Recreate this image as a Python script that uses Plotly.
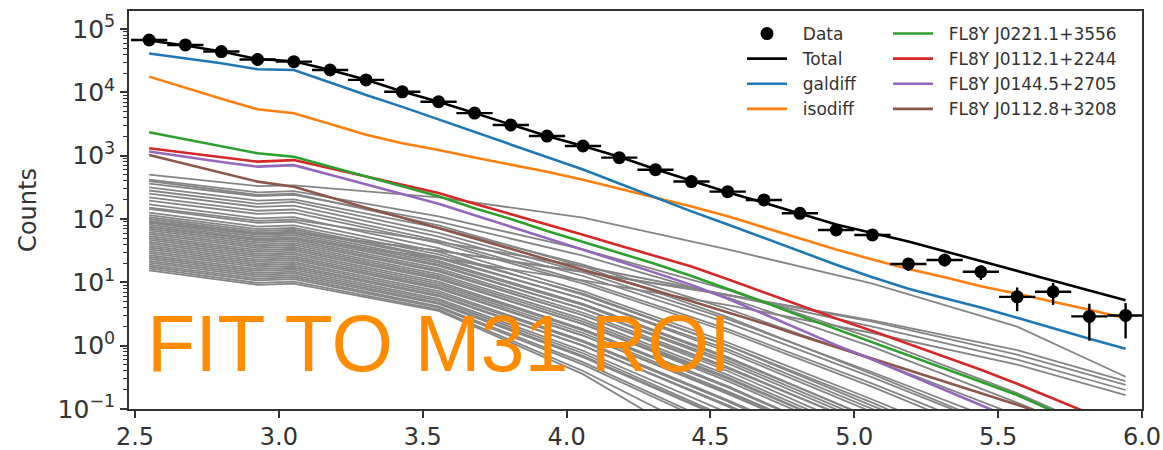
import plotly.graph_objects as go

# ---------------- data ----------------
energy = [2.549, 2.675, 2.800, 2.926, 3.052, 3.178, 3.303, 3.429, 3.555, 3.680,
          3.806, 3.932, 4.057, 4.183, 4.309, 4.434, 4.560, 4.686, 4.811, 4.937,
          5.063, 5.188, 5.314, 5.440, 5.566, 5.691, 5.817, 5.943]
bin_halfwidth = 0.063

data_counts = [67000, 56000, 44000, 33000, 30500, 22500, 15700, 10200, 7100, 4700,
               3050, 2040, 1420, 930, 600, 390, 270, 200, 123, 67,
               56, 19.5, 22.5, 14.7, 5.9, 7.1, 2.9, 3.0]
data_err = [259, 237, 210, 182, 175, 150, 125, 101, 84, 69,
            55, 45, 38, 30.5, 24.5, 19.7, 16.4, 14.1, 11.1, 8.2,
            7.5, 4.4, 4.7, 3.8, 2.4, 2.7, 1.7, 1.7]

total = [66000, 55000, 44000, 33500, 31000, 22500, 15800, 10300, 7100, 4700,
         3100, 2050, 1420, 960, 610, 400, 265, 180, 122, 82,
         60, 44, 31, 21.5, 15, 10.5, 7.4, 5.2]

galdiff = [41000, 34400, 28700, 23100, 22500, 14300, 9060, 5890, 3720, 2340,
           1510, 955, 603, 363, 219, 132, 82, 50, 31, 19,
           12, 7.9, 5.6, 4.0, 2.75, 1.86, 1.29, 0.89]

isodiff = [17700, 11700, 7940, 5400, 4670, 3160, 2140, 1570, 1230, 933,
           724, 556, 417, 302, 214, 158, 110, 74, 50, 33,
           23, 16.2, 12.0, 8.7, 6.6, 5.0, 3.7, 2.7]

src_j0221 = [2340, 1820, 1410, 1090, 964, 676, 468, 331, 229, 148,
             100, 64.6, 43.7, 28.8, 19.5, 12.6, 7.94, 4.90, 2.95, 1.82,
             1.12, 0.708, 0.437, 0.269, 0.166, 0.093, 0.056, 0.032]
src_j0112a = [1310, 1120, 955, 804, 851, 631, 468, 355, 257, 174,
              120, 81.3, 56.2, 38.0, 26.3, 17.8, 11.2, 6.92, 4.27, 2.69,
              1.70, 1.07, 0.676, 0.417, 0.251, 0.148, 0.085, 0.048]
src_j0144 = [1160, 955, 794, 670, 708, 501, 355, 251, 174, 115,
             75.9, 49.0, 32.4, 21.4, 14.1, 9.12, 5.50, 3.16, 1.78, 1.02,
             0.603, 0.347, 0.204, 0.115, 0.066, 0.038, 0.022, 0.0126]
src_j0112b = [1020, 741, 537, 389, 324, 219, 151, 105, 72.4, 49.0,
              33.9, 22.9, 15.8, 10.7, 7.41, 5.01, 3.39, 2.24, 1.45, 0.955,
              0.631, 0.417, 0.275, 0.178, 0.117, 0.076, 0.050, 0.032]

source_names = ["FL8Y J0221.1+3556", "FL8Y J0112.1+2244",
                "FL8Y J0144.5+2705", "FL8Y J0112.8+3208"]

# other (grey) sources: log10(counts) read at these energies
others_E = [2.549, 2.926, 3.052, 3.555, 4.057, 4.560, 5.063, 5.566, 5.943]
others_log10 = [
    [2.70, 2.52, 2.53, 2.34, 2.02, 1.52, 0.98, 0.30, -0.49],
    [1.95, 1.76, 1.78, 1.50, 1.16, 0.80, 0.40, -0.07, -0.56],
    [1.96, 1.77, 1.79, 1.50, 1.17, 0.80, 0.38, -0.14, -0.62],
    [2.18, 1.97, 1.99, 1.64, 1.25, 0.80, 0.30, -0.22, -0.70],
    [1.88, 1.67, 1.69, 1.38, 1.03, 0.64, 0.20, -0.30, -0.78],
    [2.62, 2.42, 2.44, 2.04, 1.52, 0.88, 0.12, -0.75, -1.5],
    [2.56, 2.36, 2.38, 1.96, 1.42, 0.76, -0.02, -0.9, -1.6],
    [2.60, 2.38, 2.40, 1.90, 1.25, 0.45, -0.45, -1.4, -2.1],
    [2.50, 2.29, 2.31, 1.86, 1.28, 0.58, -0.22, -1.1, -1.8],
    [2.45, 2.24, 2.27, 1.78, 1.16, 0.42, -0.42, -1.3, -2.0],
    [2.40, 2.19, 2.21, 1.72, 1.10, 0.36, -0.5, -1.4, -2.1],
    [2.34, 2.13, 2.15, 1.66, 1.02, 0.26, -0.6, -1.5, -2.2],
    [2.29, 2.08, 2.10, 1.62, 0.98, 0.22, -0.65, -1.6, -2.3],
    [2.23, 2.01, 2.03, 1.54, 0.86, 0.05, -0.85, -1.8, -2.5],
    [2.16, 1.94, 1.96, 1.48, 0.80, 0.00, -0.9, -1.9, -2.6],
    [2.10, 1.88, 1.90, 1.44, 0.82, 0.00, -0.95, -1.9, -2.6],
    [2.06, 1.84, 1.86, 1.40, 0.74, -0.10, -1.05, -2.0, -2.7],
    [2.03, 1.81, 1.83, 1.38, 0.74, -0.06, -1.0, -2.0, -2.7],
    [2.00, 1.78, 1.80, 1.34, 0.66, -0.18, -1.15, -2.1, -2.8],
    [1.97, 1.75, 1.77, 1.31, 0.64, -0.20, -1.15, -2.1, -2.8],
    [1.94, 1.72, 1.74, 1.28, 0.58, -0.28, -1.25, -2.2, -2.9],
    [1.91, 1.69, 1.71, 1.26, 0.58, -0.24, -1.2, -2.2, -2.9],
    [1.88, 1.66, 1.68, 1.22, 0.52, -0.34, -1.3, -2.3, -3.0],
    [1.85, 1.63, 1.65, 1.19, 0.48, -0.40, -1.4, -2.4, -3.1],
    [1.82, 1.60, 1.62, 1.17, 0.48, -0.36, -1.3, -2.3, -3.0],
    [1.79, 1.57, 1.59, 1.13, 0.42, -0.46, -1.45, -2.4, -3.1],
    [1.76, 1.54, 1.56, 1.10, 0.38, -0.50, -1.5, -2.5, -3.2],
    [1.73, 1.51, 1.53, 1.07, 0.34, -0.56, -1.55, -2.5, -3.2],
    [1.70, 1.48, 1.50, 1.05, 0.34, -0.52, -1.5, -2.5, -3.2],
    [1.67, 1.45, 1.47, 1.01, 0.26, -0.64, -1.65, -2.6, -3.3],
    [1.64, 1.42, 1.44, 0.98, 0.24, -0.66, -1.65, -2.6, -3.3],
    [1.61, 1.39, 1.41, 0.95, 0.20, -0.72, -1.7, -2.7, -3.4],
    [1.58, 1.36, 1.38, 0.92, 0.16, -0.76, -1.75, -2.7, -3.4],
    [1.55, 1.33, 1.35, 0.90, 0.16, -0.74, -1.7, -2.7, -3.4],
    [1.52, 1.30, 1.32, 0.86, 0.08, -0.86, -1.85, -2.8, -3.5],
    [1.49, 1.27, 1.29, 0.83, 0.06, -0.88, -1.9, -2.9, -3.6],
    [1.46, 1.24, 1.26, 0.80, 0.00, -0.96, -2.0, -3.0, -3.7],
    [1.43, 1.21, 1.23, 0.78, 0.00, -0.94, -1.95, -3.0, -3.7],
    [1.40, 1.18, 1.20, 0.74, -0.08, -1.06, -2.1, -3.1, -3.8],
    [1.37, 1.15, 1.17, 0.71, -0.12, -1.12, -2.15, -3.2, -3.9],
    [1.34, 1.12, 1.14, 0.68, -0.16, -1.16, -2.2, -3.2, -3.9],
    [1.31, 1.09, 1.11, 0.66, -0.18, -1.18, -2.2, -3.2, -3.9],
    [1.28, 1.06, 1.08, 0.62, -0.26, -1.30, -2.35, -3.4, -4.1],
    [1.25, 1.03, 1.05, 0.60, -0.30, -1.36, -2.4, -3.4, -4.1],
    [1.22, 0.99, 1.01, 0.57, -0.40, -1.55, -2.6, -3.6, -4.3],
    [1.19, 0.96, 0.98, 0.55, -0.45, -1.80, -2.9, -3.9, -4.6],
]

x_ticks = [2.5, 3.0, 3.5, 4.0, 4.5, 5.0, 5.5, 6.0]
x_ticktext = ["2.5", "3.0", "3.5", "4.0", "4.5", "5.0", "5.5", "6.0"]
y_ticks = [0.1, 1, 10, 100, 1000, 10000, 100000]
y_ticktext = ["10<sup>\u22121</sup>", "10<sup>0</sup>", "10<sup>1</sup>", "10<sup>2</sup>",
              "10<sup>3</sup>", "10<sup>4</sup>", "10<sup>5</sup>"]

# ---------------- figure ----------------
FONT = "DejaVu Sans"
TXT = "#333333"
NB = "\u00a0\u00a0"
fig = go.Figure()

# grey sources (one trace, separated by gaps)
gx, gy = [], []
for row in others_log10:
    gx += others_E + [None]
    gy += [10 ** v for v in row] + [None]
fig.add_trace(go.Scatter(x=gx, y=gy, mode="lines", line=dict(color="#858585", width=1.8),
                         showlegend=False, hoverinfo="skip", connectgaps=False))

src_colors = ["#2ca02c", "#d62728", "#9467bd", "#8c564b"]
src_vals = [src_j0221, src_j0112a, src_j0144, src_j0112b]
for name, vals, col, rank in reversed(list(zip(source_names, src_vals, src_colors, [1, 2, 3, 4]))):
    fig.add_trace(go.Scatter(x=energy, y=vals, mode="lines", name=NB + name,
                             line=dict(color=col, width=2.6), legend="legend2",
                             legendrank=rank, legendgroup=name))

fig.add_trace(go.Scatter(x=energy, y=isodiff, mode="lines", name=NB + "isodiff",
                         line=dict(color="#ff7f0e", width=2.6), legendrank=4, legendgroup="iso"))
fig.add_trace(go.Scatter(x=energy, y=galdiff, mode="lines", name=NB + "galdiff",
                         line=dict(color="#1f77b4", width=2.6), legendrank=3, legendgroup="gal"))
fig.add_trace(go.Scatter(x=energy, y=total, mode="lines", name=NB + "Total",
                         line=dict(color="black", width=2.6), legendrank=2, legendgroup="tot"))
fig.add_trace(go.Scatter(x=energy, y=data_counts, mode="markers", name=NB + "Data",
                         marker=dict(color="black", size=13, symbol="circle"),
                         error_y=dict(type="data", array=data_err, color="black", thickness=2.4, width=0),
                         error_x=dict(type="constant", value=bin_halfwidth, color="black",
                                      thickness=2.4, width=0),
                         legendrank=1, legendgroup="data"))

fig.add_annotation(text="FIT TO M31 ROI", xref="paper", yref="paper",
                   x=(145 - 129) / 1013, y=(409 - 343) / 398, xanchor="left", yanchor="middle",
                   showarrow=False, font=dict(family="Liberation Sans", size=79, color="#ff8c00"))

axis_common = dict(showline=True, linecolor=TXT, linewidth=1.6, mirror=True, showgrid=False,
                   zeroline=False, ticks="outside", ticklen=7, tickwidth=1.6, tickcolor=TXT,
                   automargin=False)

fig.update_layout(
    width=1163, height=450,
    margin=dict(l=129, r=21, t=11, b=41, autoexpand=False),
    paper_bgcolor="white", plot_bgcolor="white",
    xaxis=dict(range=[2.479, 6.0], tickmode="array", tickvals=x_ticks, ticktext=x_ticktext,
               tickfont=dict(family=FONT, size=24, color=TXT), ticklabelstandoff=-2,
               **axis_common),
    yaxis=dict(type="log", range=[-1, 5.284], tickmode="array", tickvals=y_ticks,
               ticktext=y_ticktext, tickfont=dict(family=FONT, size=25, color=TXT),
               title=dict(text="Counts", font=dict(family=FONT, size=24, color=TXT), standoff=14),
               minor=dict(ticks="outside", ticklen=4, tickwidth=1.2, tickcolor=TXT, dtick="D1",
                          showgrid=False),
               **axis_common),
    legend=dict(x=(742 - 129) / 1013, y=1 - 5 / 398, xanchor="left", yanchor="top",
                bgcolor="rgba(0,0,0,0)", font=dict(family=FONT, size=17, color=TXT),
                itemwidth=40, tracegroupgap=3, traceorder="normal"),
    legend2=dict(x=(888 - 129) / 1013, y=1 - 5 / 398, xanchor="left", yanchor="top",
                 bgcolor="rgba(0,0,0,0)", font=dict(family=FONT, size=17, color=TXT),
                 itemwidth=40, tracegroupgap=3, traceorder="normal"),
)

fig.write_html("out.html", config={"displayModeBar": False},
               post_script="document.body.style.margin='0px';document.body.style.overflow='hidden';")
